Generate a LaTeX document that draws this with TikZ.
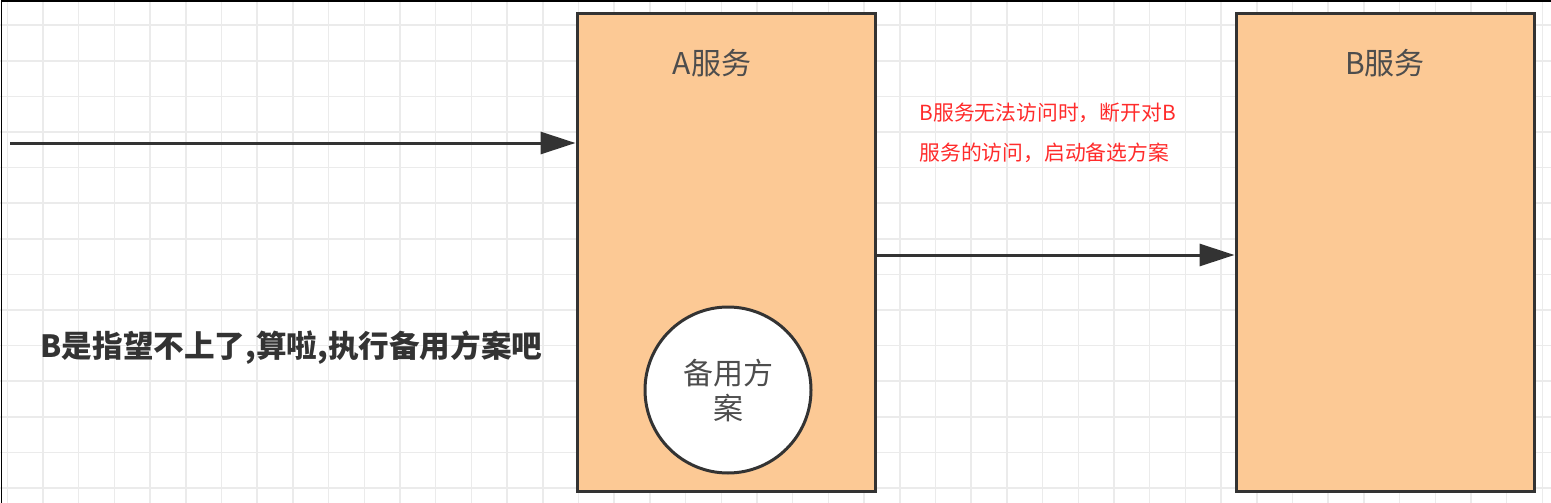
\documentclass[tikz,border=0pt]{standalone}
\usepackage{fontspec}
\setmainfont{Noto Sans CJK SC}
\usetikzlibrary{arrows.meta,positioning}
\definecolor{svcfill}{HTML}{FCC995}
\definecolor{inkgrey}{HTML}{333333}
\definecolor{gridgrey}{HTML}{EBEBEB}
\definecolor{labelgrey}{HTML}{4D4D4D}
\definecolor{noteRed}{HTML}{FF2B2B}

\begin{document}
\begin{tikzpicture}[
  x=1pt, y=-1pt,
  svc/.style={draw=inkgrey, line width=3pt, fill=svcfill,
              minimum width=298pt, minimum height=477pt, inner sep=0pt},
  svctitle/.style={text=labelgrey, font=\fontsize{30}{30}\selectfont},
  backup/.style={draw=inkgrey, line width=3pt, fill=white, circle,
                 minimum size=166pt, inner sep=0pt, align=center,
                 text=labelgrey, font=\fontsize{30}{35}\selectfont},
  flow/.style={-{Triangle[length=35pt, width=22pt]}, inkgrey, line width=3pt},
  gridline/.style={gridgrey, line width=1.5pt},
]
\useasboundingbox (0,0) rectangle (1551,503);

% --- background grid and the frame on the left and top
\foreach \gx in {0,...,43}
  \draw[gridline] (7.3+\gx*35.7,0) -- ++(0,503);
\foreach \gy in {0,...,14}
  \draw[gridline] (0,-10.4+\gy*35.6) -- ++(1551,0);
\draw[black, line width=1.2pt] (1.5,503) -- (1.5,1) -- (1551,1);

% --- the two services
\node[svc] (svcA) at (726,252.5) {};
\node[svc] (svcB) at (1385,252.5) {};
\node[svctitle] (titleA) at (712,63) {A服务};
\node[svctitle] (titleB) at (1385,63) {B服务};

% --- fallback inside A
\node[backup] (fallback) at (728,390) {备用方\\案};

% --- calls
\coordinate (caller) at (10,143);
\draw[flow] (caller) -- (caller -| svcA.west);
\draw[flow] (svcA.east |- 0,255) -- (svcB.west |- 0,255);

% --- notes
\node[anchor=west, align=left, text=noteRed,
      font=\fontsize{20.8}{40}\selectfont] (note) at (916,133)
  {B服务无法访问时，断开对B\\服务的访问，启动备选方案};
\node[anchor=west, text=inkgrey, font=\bfseries\fontsize{30.6}{30}\selectfont]
  (giveup) at (37,348) {B是指望不上了,算啦,执行备用方案吧};
\end{tikzpicture}
\end{document}
